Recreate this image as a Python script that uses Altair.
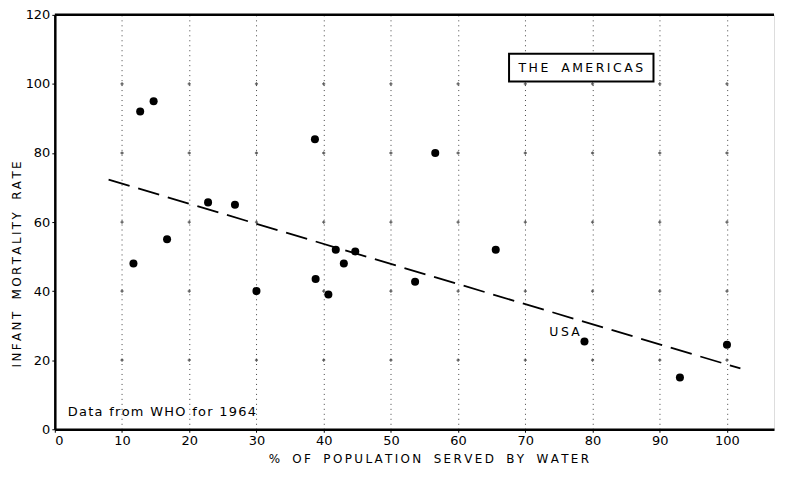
import altair as alt
import pandas as pd

# Data
water = [11.7, 12.7, 14.7, 16.7, 22.8, 26.8, 30.0, 38.7, 38.8, 40.7, 41.8, 43.0, 44.7, 53.6, 56.6, 65.6, 78.8, 93.0, 100.0]
mortality = [48.0, 92.0, 95.0, 55.0, 65.7, 65.0, 40.0, 84.0, 43.5, 39.0, 52.0, 48.0, 51.5, 42.7, 80.0, 52.0, 25.4, 15.0, 24.5]
names = ["", "", "", "", "", "", "", "", "", "", "", "", "", "", "", "", "USA", "", ""]

trend_x = [8, 102]
trend_y = [72.3, 17.6]

x_ticks = [0, 10, 20, 30, 40, 50, 60, 70, 80, 90, 100]
y_ticks = [0, 20, 40, 60, 80, 100, 120]

W, H = 722, 416
FONT = "DejaVu Sans"


def spaced(text, gap="\u2009", word="\u00a0\u00a0"):
    words = text.split(" ")
    return (gap + word + gap).join(gap.join(w) for w in words)


df = pd.DataFrame({"water": water, "mortality": mortality,
                   "name": [spaced(n) if n else "" for n in names]})
trend = pd.DataFrame({"water": trend_x, "mortality": trend_y})
grid = pd.DataFrame([{"water": gx, "mortality": gy} for gx in x_ticks[1:] for gy in y_ticks[1:-1]])

xscale = alt.Scale(domain=[0, 107], nice=False, zero=False)
yscale = alt.Scale(domain=[0, 120], nice=False)

xaxis = alt.Axis(
    values=x_ticks, grid=True, gridDash=[1, 4], gridColor="#444", gridWidth=1,
    domainColor="black", domainWidth=2.5, tickColor="black", tickSize=3,
    labelFontSize=13, labelColor="black", labelFont=FONT, labelPadding=2,
    title=spaced("% OF POPULATION SERVED BY WATER"),
    titleFont=FONT, titleFontSize=12, titleFontWeight="normal", titleColor="black",
    titleX=375, titleY=33, titleBaseline="alphabetic",
)
yaxis = alt.Axis(
    values=y_ticks, grid=False,
    domainColor="black", domainWidth=2.5, tickColor="black", tickSize=3,
    labelFontSize=13, labelColor="black", labelFont=FONT, labelPadding=2,
    title=spaced("INFANT MORTALITY RATE"),
    titleFont=FONT, titleFontSize=12, titleFontWeight="normal", titleColor="black",
    titleX=-38, titleY=250, titleBaseline="middle", titleAngle=-90,
)

gridpts = alt.Chart(grid).mark_point(shape="cross", size=10, filled=True, color="#333", opacity=0.8).encode(
    x=alt.X("water:Q", scale=xscale, axis=xaxis),
    y=alt.Y("mortality:Q", scale=yscale, axis=yaxis),
)

topline = alt.Chart(alt.Data(values=[{}])).mark_rule(color="black", strokeWidth=2.5).encode(
    x=alt.value(0), x2=alt.value(W), y=alt.value(0)
)

line = alt.Chart(trend).mark_line(color="black", strokeWidth=1.8, strokeDash=[22, 9]).encode(
    x=alt.X("water:Q", scale=xscale),
    y=alt.Y("mortality:Q", scale=yscale),
)

pts = alt.Chart(df).mark_circle(size=65, color="black", opacity=1).encode(
    x=alt.X("water:Q", scale=xscale),
    y=alt.Y("mortality:Q", scale=yscale),
)

usa = alt.Chart(df).transform_filter(alt.datum.name != "").mark_text(
    font=FONT, fontSize=12.5, color="black", dx=-20, dy=-10
).encode(
    x=alt.X("water:Q", scale=xscale),
    y=alt.Y("mortality:Q", scale=yscale),
    text="name:N",
)

box = alt.Chart(alt.Data(values=[{}])).mark_rect(fill="white", stroke="black", strokeWidth=2).encode(
    x=alt.value(456), x2=alt.value(601), y=alt.value(39), y2=alt.value(67)
)
boxtext = alt.Chart(alt.Data(values=[{"t": spaced("THE AMERICAS")}])).mark_text(
    font=FONT, fontSize=12.5, color="black", align="center", baseline="middle"
).encode(x=alt.value(528), y=alt.value(53), text="t:N")

note = alt.Chart(alt.Data(values=[{"t": spaced("Data from WHO for 1964", gap="\u200a", word="\u00a0")}])).mark_text(
    font=FONT, fontSize=13, color="black", align="left", baseline="middle"
).encode(x=alt.value(13), y=alt.value(399), text="t:N")

chart = alt.layer(gridpts, topline, line, pts, usa, box, boxtext, note).properties(
    width=W, height=H,
    autosize=alt.AutoSizeParams(type="none"),
    padding={"left": 47, "top": 6, "right": 4, "bottom": 37},
).configure_view(stroke=None).configure(background="white")

chart.save("out.html", embed_options={"renderer": "svg", "actions": False})
